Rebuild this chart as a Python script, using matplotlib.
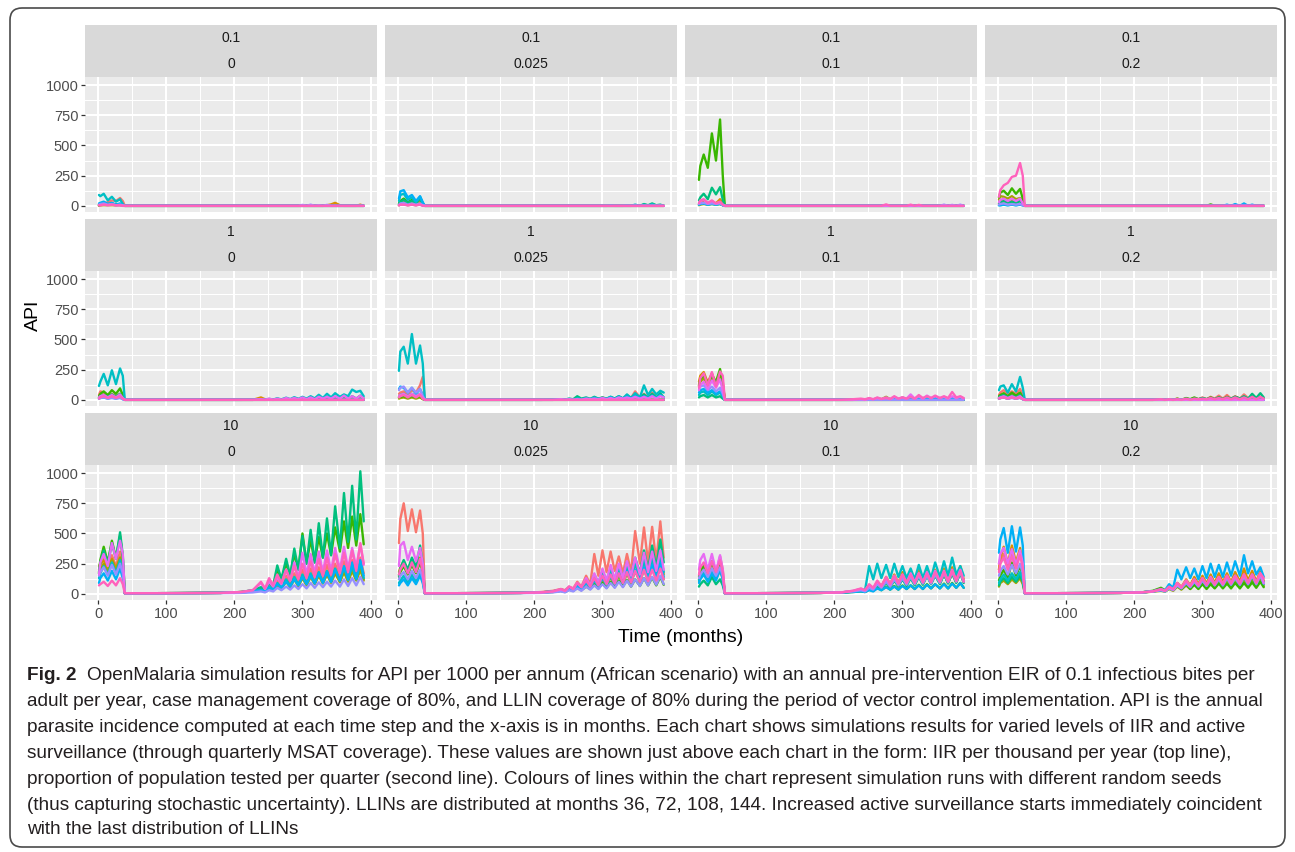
import numpy as np
import matplotlib.pyplot as plt
from matplotlib.patches import FancyBboxPatch
from matplotlib.transforms import IdentityTransform

# -----------------------------
# DATA
# -----------------------------
IIR = ["0.1", "1", "10"]
MSAT = ["0", "0.025", "0.1", "0.2"]

# seed colours (ggplot hue palette, 10 seeds)
COLORS = ["#F8766D", "#D89000", "#A3A500", "#39B600", "#00BF7D",
          "#00BFC4", "#00B0F6", "#9590FF", "#E76BF3", "#FF62BC"]

# time points (months): pre-intervention part, then the rest of the run
PRE_T = [1, 3, 8, 14, 20, 26, 32, 36, 39]
POST_T = [60, 120, 180, 210, 227, 239, 245, 251, 257, 263, 269, 276, 282, 288, 294,
          300, 306, 312, 318, 324, 330, 336, 342, 348, 355, 361, 367, 373, 379, 385, 390]

ZERO_POST = [0, 0, 0, 0, 0, 0, 0, 0, 0, 0, 0, 0, 0, 0, 0, 0,
             0, 0, 0, 0, 0, 0, 0, 0, 0, 0, 0, 0, 0, 0, 0]

# ---- IIR 0.1 ----
PRE_A1 = [[10, 15, 20, 30, 45, 40, 65, 40, 0],
          [5, 5, 10, 10, 10, 5, 10, 5, 0],
          [0, 5, 5, 5, 5, 5, 5, 0, 0],
          [5, 10, 15, 10, 15, 10, 10, 5, 0],
          [10, 15, 25, 15, 20, 10, 15, 5, 0],
          [90, 80, 100, 45, 75, 35, 55, 15, 0],
          [20, 25, 35, 15, 25, 10, 20, 5, 0],
          [10, 15, 20, 10, 15, 5, 10, 5, 0],
          [5, 5, 10, 5, 10, 5, 5, 0, 0],
          [5, 5, 10, 5, 10, 5, 5, 0, 0]]
POST_A1 = [ZERO_POST,
           [0, 0, 0, 0, 0, 0, 0, 0, 0, 0, 0, 0, 0, 0, 0, 0, 0, 0, 0, 0, 0, 5, 12, 25, 5, 0, 0, 0, 0, 10, 0],
           ZERO_POST, ZERO_POST, ZERO_POST, ZERO_POST, ZERO_POST,
           [0, 0, 0, 0, 0, 0, 0, 0, 0, 0, 0, 0, 0, 0, 0, 8, 0, 10, 0, 5, 0, 8, 0, 0, 0, 0, 0, 0, 0, 0, 0],
           ZERO_POST, ZERO_POST]

PRE_A2 = [[5, 10, 15, 10, 15, 10, 20, 5, 0],
          [10, 20, 40, 15, 30, 10, 40, 10, 0],
          [5, 10, 15, 5, 10, 5, 15, 5, 0],
          [20, 40, 60, 30, 50, 30, 70, 20, 0],
          [15, 30, 50, 25, 40, 20, 60, 15, 0],
          [40, 90, 100, 50, 70, 30, 75, 20, 0],
          [60, 120, 130, 70, 90, 40, 80, 30, 0],
          [10, 20, 25, 10, 20, 10, 20, 5, 0],
          [5, 10, 10, 5, 10, 5, 10, 0, 0],
          [5, 10, 10, 5, 10, 5, 10, 0, 0]]
POST_A2 = [ZERO_POST, ZERO_POST, ZERO_POST, ZERO_POST,
           [0, 0, 0, 0, 0, 0, 0, 0, 0, 0, 0, 0, 0, 0, 0, 0, 0, 0, 0, 0, 0, 0, 0, 5, 0, 15, 5, 20, 5, 10, 0],
           [0, 0, 0, 0, 0, 0, 0, 0, 0, 0, 0, 0, 0, 0, 0, 0, 0, 5, 0, 0, 0, 5, 0, 10, 0, 10, 0, 15, 0, 5, 0],
           ZERO_POST, ZERO_POST, ZERO_POST, ZERO_POST]

PRE_A3 = [[20, 30, 40, 20, 35, 20, 30, 10, 0],
          [10, 20, 30, 15, 25, 20, 55, 20, 0],
          [5, 10, 15, 10, 15, 10, 15, 5, 0],
          [215, 330, 425, 315, 600, 375, 715, 250, 0],
          [45, 70, 100, 55, 150, 95, 155, 50, 0],
          [10, 15, 20, 10, 15, 10, 15, 5, 0],
          [10, 15, 20, 10, 20, 10, 20, 5, 0],
          [15, 20, 25, 15, 20, 15, 20, 5, 0],
          [20, 40, 50, 20, 40, 20, 30, 10, 0],
          [25, 45, 55, 25, 45, 20, 35, 10, 0]]
POST_A3 = [ZERO_POST, ZERO_POST, ZERO_POST, ZERO_POST, ZERO_POST, ZERO_POST, ZERO_POST,
           [0, 0, 0, 0, 0, 0, 0, 0, 0, 0, 0, 0, 0, 0, 0, 0, 0, 0, 0, 0, 0, 0, 0, 0, 0, 10, 0, 8, 0, 10, 0],
           ZERO_POST,
           [0, 0, 0, 0, 0, 0, 0, 0, 0, 0, 0, 12, 0, 0, 0, 0, 0, 10, 0, 8, 0, 0, 0, 0, 0, 0, 0, 0, 0, 0, 0]]

PRE_A4 = [[10, 20, 30, 20, 30, 20, 40, 10, 0],
          [20, 40, 50, 30, 40, 30, 50, 20, 0],
          [50, 80, 75, 60, 80, 55, 65, 40, 0],
          [70, 110, 125, 90, 145, 100, 140, 60, 0],
          [20, 30, 40, 25, 35, 25, 40, 15, 0],
          [5, 5, 10, 5, 10, 5, 10, 5, 0],
          [5, 5, 10, 5, 10, 5, 10, 5, 0],
          [10, 15, 20, 10, 15, 10, 15, 5, 0],
          [30, 50, 60, 40, 60, 40, 60, 20, 0],
          [75, 130, 170, 190, 240, 250, 355, 250, 0]]
POST_A4 = [ZERO_POST, ZERO_POST, ZERO_POST,
           [0, 0, 0, 0, 0, 0, 0, 0, 0, 0, 0, 0, 0, 0, 0, 0, 0, 12, 0, 0, 0, 0, 0, 0, 0, 0, 0, 0, 0, 0, 0],
           ZERO_POST, ZERO_POST,
           [0, 0, 0, 0, 0, 0, 0, 0, 0, 0, 0, 0, 0, 0, 0, 0, 0, 0, 0, 0, 0, 10, 0, 15, 0, 20, 0, 10, 0, 0, 0],
           ZERO_POST, ZERO_POST, ZERO_POST]

# ---- IIR 1 ----
PRE_B1 = [[40, 70, 60, 30, 50, 30, 50, 20, 0],
          [20, 30, 40, 20, 40, 20, 40, 10, 0],
          [15, 20, 30, 15, 30, 15, 30, 10, 0],
          [30, 50, 70, 40, 80, 50, 95, 40, 0],
          [20, 30, 40, 25, 45, 25, 50, 15, 0],
          [115, 150, 215, 120, 245, 130, 260, 200, 0],
          [10, 15, 20, 10, 20, 10, 20, 5, 0],
          [10, 15, 20, 10, 15, 10, 15, 5, 0],
          [20, 30, 40, 20, 40, 20, 45, 15, 0],
          [10, 20, 30, 15, 30, 15, 30, 10, 0]]
POST_B1 = [ZERO_POST,
           [0, 0, 0, 0, 0, 20, 5, 5, 0, 5, 0, 10, 0, 10, 5, 10, 5, 15, 5, 15, 5, 20, 10, 20, 10, 25, 10, 25, 10, 30, 10],
           ZERO_POST, ZERO_POST,
           [0, 0, 0, 0, 0, 5, 0, 5, 0, 10, 0, 10, 0, 15, 5, 15, 5, 20, 5, 20, 5, 25, 10, 25, 10, 30, 10, 30, 10, 35, 10],
           [0, 0, 0, 0, 2, 5, 2, 8, 3, 12, 4, 18, 6, 22, 8, 25, 10, 30, 12, 42, 15, 50, 20, 55, 25, 45, 30, 85, 65, 75, 30],
           ZERO_POST, ZERO_POST,
           [0, 0, 0, 0, 0, 5, 0, 10, 0, 10, 0, 15, 5, 15, 5, 20, 5, 20, 5, 25, 10, 25, 10, 30, 10, 35, 10, 30, 10, 35, 10],
           ZERO_POST]

PRE_B2 = [[50, 60, 70, 40, 80, 60, 120, 190, 0],
          [20, 30, 40, 20, 40, 20, 40, 10, 0],
          [10, 15, 20, 10, 20, 10, 20, 5, 0],
          [20, 25, 30, 20, 30, 20, 30, 10, 0],
          [30, 40, 50, 30, 50, 30, 50, 15, 0],
          [240, 400, 440, 300, 545, 300, 450, 300, 0],
          [90, 110, 100, 60, 100, 50, 90, 40, 0],
          [80, 100, 110, 60, 100, 60, 90, 30, 0],
          [30, 40, 50, 30, 50, 30, 50, 15, 0],
          [20, 30, 40, 20, 40, 20, 40, 10, 0]]
POST_B2 = [[0, 0, 0, 0, 0, 5, 0, 5, 0, 10, 5, 10, 5, 15, 5, 20, 5, 20, 10, 25, 10, 40, 15, 70, 20, 50, 20, 60, 20, 40, 15],
           ZERO_POST, ZERO_POST, ZERO_POST,
           [0, 0, 0, 0, 2, 5, 2, 10, 5, 30, 10, 20, 8, 25, 10, 20, 10, 25, 10, 30, 10, 35, 15, 40, 15, 45, 15, 50, 20, 55, 20],
           [0, 0, 0, 0, 2, 5, 2, 8, 3, 10, 5, 15, 5, 20, 8, 15, 8, 25, 10, 30, 12, 45, 15, 55, 20, 120, 40, 90, 45, 75, 60],
           [0, 0, 0, 0, 0, 5, 0, 5, 0, 10, 5, 10, 5, 15, 5, 15, 5, 20, 5, 20, 10, 25, 10, 30, 10, 30, 15, 35, 15, 40, 20],
           ZERO_POST,
           [0, 0, 0, 0, 0, 5, 0, 5, 0, 5, 0, 10, 5, 10, 5, 15, 5, 15, 5, 20, 10, 20, 10, 25, 10, 25, 10, 30, 10, 30, 20],
           ZERO_POST]

PRE_B3 = [[130, 170, 200, 150, 210, 140, 200, 150, 0],
          [150, 200, 230, 140, 220, 130, 210, 120, 0],
          [110, 150, 180, 100, 190, 120, 200, 90, 0],
          [120, 170, 210, 130, 200, 150, 255, 130, 0],
          [20, 30, 40, 20, 40, 20, 30, 10, 0],
          [40, 60, 70, 40, 70, 40, 60, 30, 0],
          [60, 80, 90, 60, 80, 50, 70, 40, 0],
          [90, 110, 120, 80, 110, 70, 100, 50, 0],
          [80, 120, 150, 90, 160, 100, 170, 80, 0],
          [100, 180, 220, 120, 230, 110, 235, 200, 0]]
POST_B3 = [ZERO_POST, ZERO_POST,
           [0, 0, 0, 0, 0, 5, 0, 10, 0, 15, 5, 25, 5, 15, 5, 20, 5, 15, 5, 20, 5, 15, 5, 20, 5, 15, 5, 20, 5, 15, 5],
           ZERO_POST, ZERO_POST, ZERO_POST,
           [0, 0, 0, 0, 0, 0, 0, 5, 0, 5, 0, 5, 0, 10, 0, 10, 0, 10, 0, 10, 0, 10, 0, 15, 0, 15, 0, 15, 0, 20, 10],
           ZERO_POST,
           [0, 0, 0, 0, 0, 5, 0, 10, 5, 15, 5, 20, 5, 25, 10, 20, 10, 45, 10, 30, 10, 35, 15, 30, 15, 25, 10, 30, 15, 25, 10],
           [0, 0, 0, 0, 5, 10, 5, 15, 5, 20, 8, 15, 8, 30, 10, 20, 10, 25, 10, 40, 15, 30, 15, 35, 15, 30, 15, 65, 20, 30, 15]]

PRE_B4 = [[40, 60, 80, 50, 70, 50, 90, 40, 0],
          [20, 30, 40, 20, 40, 20, 40, 10, 0],
          [10, 15, 20, 10, 20, 10, 20, 5, 0],
          [30, 40, 55, 30, 60, 35, 60, 20, 0],
          [20, 30, 40, 20, 35, 20, 40, 10, 0],
          [80, 110, 120, 60, 130, 70, 190, 100, 0],
          [10, 15, 20, 10, 20, 10, 20, 5, 0],
          [10, 15, 20, 10, 15, 10, 15, 5, 0],
          [15, 20, 30, 15, 30, 15, 30, 10, 0],
          [10, 15, 20, 10, 20, 10, 20, 5, 0]]
POST_B4 = [[0, 0, 0, 0, 0, 5, 0, 5, 0, 10, 0, 10, 5, 15, 5, 20, 5, 25, 10, 35, 10, 40, 10, 30, 10, 45, 15, 30, 10, 25, 10],
           ZERO_POST, ZERO_POST,
           [0, 0, 0, 0, 0, 5, 0, 5, 0, 10, 0, 15, 5, 20, 5, 15, 5, 20, 5, 20, 5, 25, 5, 25, 10, 20, 5, 20, 5, 15, 5],
           [0, 0, 0, 0, 0, 0, 0, 5, 0, 5, 0, 10, 0, 10, 5, 15, 5, 15, 5, 20, 5, 20, 10, 25, 10, 30, 10, 50, 15, 55, 20],
           ZERO_POST, ZERO_POST, ZERO_POST, ZERO_POST,
           [0, 0, 0, 0, 0, 5, 0, 5, 0, 5, 0, 10, 0, 10, 5, 10, 5, 15, 5, 15, 5, 20, 5, 20, 5, 20, 5, 25, 5, 25, 10]]

# ---- IIR 10 ----
PRE_C1 = [[200, 230, 300, 220, 320, 230, 350, 250, 5],
          [230, 250, 280, 200, 290, 210, 300, 200, 5],
          [170, 200, 250, 180, 280, 190, 300, 200, 5],
          [180, 280, 390, 260, 440, 300, 480, 300, 5],
          [170, 260, 360, 250, 420, 290, 510, 320, 5],
          [130, 170, 230, 160, 260, 170, 280, 180, 5],
          [90, 130, 170, 110, 190, 120, 210, 130, 5],
          [150, 180, 220, 150, 240, 160, 250, 170, 5],
          [160, 260, 330, 230, 420, 290, 440, 330, 5],
          [70, 80, 100, 65, 110, 70, 130, 80, 5]]
POST_C1 = [[5, 6, 8, 15, 25, 45, 30, 70, 40, 110, 60, 150, 80, 170, 90, 200, 110, 210, 120, 220, 120, 240, 130, 250, 140, 270, 150, 280, 160, 300, 170],
           [5, 6, 8, 15, 20, 35, 25, 50, 35, 80, 50, 110, 60, 130, 70, 140, 80, 150, 85, 160, 90, 170, 100, 180, 105, 190, 110, 200, 115, 210, 120],
           [5, 6, 8, 12, 20, 30, 20, 45, 30, 70, 45, 100, 55, 120, 60, 130, 70, 140, 80, 150, 85, 160, 90, 170, 95, 180, 100, 190, 110, 200, 110],
           [5, 6, 8, 15, 30, 50, 35, 90, 60, 200, 120, 250, 150, 330, 200, 500, 250, 450, 260, 470, 300, 500, 320, 550, 350, 600, 380, 640, 400, 660, 410],
           [5, 6, 8, 15, 30, 55, 40, 85, 70, 235, 120, 290, 150, 375, 200, 480, 250, 530, 260, 585, 300, 625, 320, 725, 380, 835, 430, 895, 450, 1015, 600],
           [5, 6, 8, 12, 20, 35, 25, 60, 40, 90, 55, 120, 65, 140, 75, 160, 85, 170, 90, 180, 95, 190, 100, 210, 110, 220, 115, 230, 120, 250, 130],
           [5, 6, 8, 12, 20, 30, 22, 50, 35, 80, 50, 100, 60, 120, 70, 140, 80, 150, 85, 170, 90, 180, 100, 200, 110, 230, 120, 260, 130, 280, 150],
           [5, 5, 6, 8, 12, 20, 12, 30, 20, 50, 30, 60, 35, 70, 40, 80, 45, 90, 50, 95, 55, 100, 60, 110, 60, 120, 65, 130, 70, 140, 80],
           [5, 6, 8, 15, 30, 90, 40, 100, 60, 140, 80, 200, 110, 260, 130, 340, 160, 330, 170, 350, 180, 360, 190, 380, 200, 390, 210, 380, 220, 410, 240],
           [5, 6, 8, 15, 30, 100, 45, 130, 70, 160, 90, 200, 110, 230, 120, 250, 130, 270, 140, 290, 150, 300, 160, 330, 170, 340, 180, 360, 190, 420, 250]]

PRE_C2 = [[420, 620, 750, 520, 700, 510, 690, 500, 5],
          [180, 220, 270, 200, 280, 210, 300, 200, 5],
          [160, 200, 250, 180, 260, 190, 280, 190, 5],
          [140, 180, 230, 160, 240, 170, 260, 180, 5],
          [150, 210, 280, 200, 300, 220, 400, 250, 5],
          [90, 110, 150, 90, 160, 100, 170, 100, 5],
          [70, 90, 120, 70, 130, 80, 150, 90, 5],
          [120, 150, 180, 120, 190, 130, 200, 130, 5],
          [230, 400, 430, 280, 390, 270, 380, 250, 5],
          [160, 200, 250, 170, 260, 180, 290, 180, 5]]
POST_C2 = [[5, 6, 8, 15, 25, 40, 30, 60, 45, 100, 60, 150, 80, 330, 150, 360, 180, 350, 190, 310, 170, 330, 180, 520, 250, 550, 260, 555, 270, 600, 300],
           [5, 6, 8, 12, 20, 30, 20, 50, 35, 80, 50, 110, 60, 130, 70, 150, 80, 170, 90, 190, 100, 220, 110, 250, 130, 280, 140, 300, 150, 320, 160],
           [5, 6, 8, 10, 18, 25, 18, 40, 28, 65, 40, 90, 50, 110, 60, 120, 65, 140, 75, 150, 80, 170, 90, 190, 100, 200, 110, 220, 115, 240, 120],
           [5, 6, 8, 10, 15, 25, 15, 35, 25, 50, 30, 60, 40, 80, 45, 90, 50, 100, 55, 110, 60, 115, 60, 120, 65, 130, 70, 135, 70, 140, 75],
           [5, 6, 8, 12, 20, 35, 25, 50, 35, 80, 50, 120, 70, 160, 90, 190, 110, 210, 120, 230, 130, 260, 150, 300, 170, 360, 200, 400, 220, 450, 260],
           [5, 6, 8, 12, 20, 30, 20, 45, 30, 70, 45, 100, 60, 130, 75, 160, 90, 190, 100, 220, 110, 240, 120, 260, 130, 280, 140, 300, 150, 320, 180],
           [5, 6, 8, 10, 18, 25, 18, 40, 25, 60, 40, 90, 55, 110, 65, 130, 75, 150, 80, 170, 90, 190, 100, 200, 110, 220, 120, 240, 130, 260, 140],
           [5, 5, 6, 8, 12, 20, 12, 30, 20, 45, 25, 60, 35, 70, 40, 80, 45, 90, 50, 100, 55, 110, 60, 120, 65, 130, 70, 140, 75, 150, 80],
           [5, 6, 8, 12, 20, 35, 25, 60, 40, 90, 55, 130, 70, 170, 90, 210, 110, 240, 120, 250, 130, 270, 150, 300, 160, 340, 180, 350, 190, 360, 200],
           [5, 6, 8, 12, 20, 40, 25, 60, 40, 90, 55, 110, 60, 130, 70, 150, 80, 160, 85, 170, 90, 180, 95, 190, 100, 200, 105, 200, 110, 210, 120]]

PRE_C3 = [[150, 200, 240, 160, 250, 170, 310, 200, 5],
          [100, 130, 170, 120, 180, 130, 190, 130, 5],
          [120, 150, 190, 130, 200, 140, 210, 140, 5],
          [140, 180, 230, 150, 270, 160, 240, 150, 5],
          [60, 80, 110, 70, 140, 80, 120, 70, 5],
          [110, 140, 180, 120, 190, 130, 210, 130, 5],
          [90, 120, 160, 100, 170, 110, 200, 120, 5],
          [130, 160, 200, 140, 210, 150, 220, 150, 5],
          [200, 280, 330, 200, 330, 190, 320, 200, 5],
          [160, 220, 260, 170, 270, 180, 280, 180, 5]]
POST_C3 = [[5, 6, 8, 12, 20, 35, 25, 60, 40, 90, 55, 120, 70, 140, 80, 150, 85, 160, 90, 160, 90, 170, 95, 180, 100, 180, 100, 190, 105, 190, 105],
           [5, 6, 8, 12, 20, 30, 25, 60, 40, 100, 60, 140, 80, 160, 90, 180, 100, 190, 100, 200, 110, 210, 110, 200, 110, 210, 110, 220, 120, 230, 120],
           [5, 6, 8, 10, 18, 25, 20, 50, 35, 80, 50, 100, 60, 120, 70, 130, 75, 140, 80, 150, 85, 150, 85, 160, 90, 160, 90, 170, 95, 180, 100],
           [5, 6, 8, 10, 15, 20, 15, 35, 25, 50, 30, 60, 35, 65, 35, 70, 40, 70, 40, 75, 40, 80, 45, 80, 45, 85, 45, 90, 50, 90, 50],
           [5, 6, 8, 10, 18, 25, 20, 45, 30, 70, 45, 90, 55, 110, 60, 120, 65, 130, 70, 140, 75, 150, 80, 150, 80, 160, 85, 170, 90, 170, 90],
           [5, 6, 8, 12, 20, 40, 30, 230, 120, 250, 130, 240, 130, 250, 140, 230, 130, 210, 120, 240, 130, 230, 130, 260, 140, 270, 150, 300, 160, 230, 150],
           [5, 6, 8, 10, 15, 20, 15, 30, 20, 45, 30, 55, 35, 60, 35, 65, 40, 70, 40, 70, 40, 75, 45, 80, 45, 80, 45, 85, 50, 90, 50],
           [5, 6, 8, 12, 20, 30, 20, 50, 35, 80, 50, 100, 60, 120, 70, 130, 75, 140, 80, 150, 85, 150, 85, 160, 90, 170, 95, 180, 100, 180, 100],
           [5, 6, 8, 12, 25, 40, 30, 70, 45, 100, 60, 130, 75, 150, 85, 160, 90, 170, 95, 170, 95, 180, 100, 190, 105, 190, 105, 200, 110, 200, 110],
           [5, 6, 8, 12, 25, 45, 30, 80, 50, 110, 65, 140, 80, 150, 85, 160, 90, 160, 90, 170, 95, 170, 95, 180, 100, 180, 100, 190, 105, 190, 100]]

PRE_C4 = [[200, 260, 330, 220, 340, 230, 350, 230, 5],
          [200, 300, 390, 250, 400, 260, 380, 250, 5],
          [60, 90, 110, 80, 120, 90, 130, 80, 5],
          [110, 150, 200, 130, 260, 150, 230, 150, 5],
          [70, 100, 130, 90, 140, 100, 150, 100, 5],
          [90, 120, 160, 110, 170, 120, 180, 120, 5],
          [340, 450, 545, 340, 560, 350, 550, 400, 5],
          [150, 190, 230, 160, 240, 170, 250, 170, 5],
          [250, 330, 380, 250, 370, 240, 360, 250, 5],
          [180, 250, 300, 200, 310, 210, 320, 220, 5]]
POST_C4 = [[5, 6, 8, 12, 20, 35, 25, 60, 40, 90, 55, 110, 65, 130, 75, 140, 80, 150, 85, 160, 90, 160, 90, 170, 95, 170, 95, 180, 100, 190, 110],
           [5, 6, 8, 12, 20, 35, 25, 60, 40, 90, 55, 120, 70, 140, 80, 150, 85, 160, 90, 170, 95, 170, 95, 180, 100, 210, 110, 190, 100, 180, 100],
           [5, 6, 8, 10, 18, 25, 18, 40, 25, 60, 35, 70, 40, 80, 45, 90, 50, 90, 50, 100, 55, 100, 55, 110, 60, 110, 60, 120, 65, 120, 65],
           [5, 6, 8, 12, 25, 50, 30, 60, 35, 70, 40, 80, 40, 75, 40, 80, 40, 80, 45, 85, 45, 85, 45, 90, 45, 90, 50, 95, 50, 100, 55],
           [5, 6, 8, 12, 20, 35, 25, 50, 35, 70, 45, 90, 55, 100, 60, 110, 65, 120, 70, 120, 70, 130, 75, 130, 75, 140, 80, 140, 80, 150, 80],
           [5, 6, 8, 12, 20, 30, 20, 50, 35, 80, 50, 100, 60, 110, 65, 120, 70, 130, 75, 130, 75, 140, 80, 150, 80, 150, 85, 160, 85, 160, 90],
           [5, 6, 8, 12, 20, 40, 30, 80, 50, 200, 120, 220, 130, 210, 120, 230, 130, 250, 140, 240, 140, 260, 150, 270, 150, 320, 170, 270, 160, 220, 140],
           [5, 6, 8, 12, 20, 30, 20, 45, 30, 70, 45, 90, 55, 100, 60, 110, 65, 120, 70, 120, 70, 130, 75, 130, 75, 140, 80, 150, 80, 150, 85],
           [5, 6, 8, 12, 20, 35, 25, 55, 35, 80, 50, 110, 65, 120, 70, 130, 75, 140, 80, 140, 80, 150, 85, 150, 85, 160, 90, 160, 90, 170, 90],
           [5, 6, 8, 12, 20, 40, 25, 60, 40, 90, 55, 110, 65, 120, 70, 130, 75, 130, 75, 140, 80, 150, 85, 150, 85, 160, 90, 160, 90, 170, 130]]

PANEL_DATA = [[(PRE_A1, POST_A1), (PRE_A2, POST_A2), (PRE_A3, POST_A3), (PRE_A4, POST_A4)],
              [(PRE_B1, POST_B1), (PRE_B2, POST_B2), (PRE_B3, POST_B3), (PRE_B4, POST_B4)],
              [(PRE_C1, POST_C1), (PRE_C2, POST_C2), (PRE_C3, POST_C3), (PRE_C4, POST_C4)]]

CAPTION_BOLD = "Fig. 2"
CAPTION = [
    "OpenMalaria simulation results for API per 1000 per annum (African scenario) with an annual pre-intervention EIR of 0.1 infectious bites per",
    "adult per year, case management coverage of 80%, and LLIN coverage of 80% during the period of vector control implementation. API is the annual",
    "parasite incidence computed at each time step and the x-axis is in months. Each chart shows simulations results for varied levels of IIR and active",
    "surveillance (through quarterly MSAT coverage). These values are shown just above each chart in the form: IIR per thousand per year (top line),",
    "proportion of population tested per quarter (second line). Colours of lines within the chart represent simulation runs with different random seeds",
    "(thus capturing stochastic uncertainty). LLINs are distributed at months 36, 72, 108, 144. Increased active surveillance starts immediately coincident",
    "with the last distribution of LLINs",
]

# -----------------------------
# LAYOUT (pixels)
# -----------------------------
W, H = 1295, 852
COL_X = [85, 385, 685, 985]
PANEL_W = 292
STRIP_TOP = [25, 219, 413]
STRIP_H = 52
PANEL_H = 135

plt.rcParams["font.family"] = ["Liberation Sans", "DejaVu Sans"]

fig = plt.figure(figsize=(W / 100, H / 100), dpi=100)


def rect(x, y, w, h):
    return [x / W, 1 - (y + h) / H, w / W, h / H]


T = PRE_T + POST_T

for r in range(3):
    for c in range(4):
        # strip
        sax = fig.add_axes(rect(COL_X[c], STRIP_TOP[r], PANEL_W, STRIP_H))
        sax.set_facecolor("#D9D9D9")
        sax.set_xticks([])
        sax.set_yticks([])
        for s in sax.spines.values():
            s.set_visible(False)
        sax.text(0.5, 1 - 13 / STRIP_H, IIR[r], ha="center", va="center",
                 fontsize=10, color="#1A1A1A", transform=sax.transAxes)
        sax.text(0.5, 1 - 39 / STRIP_H, MSAT[c], ha="center", va="center",
                 fontsize=10, color="#1A1A1A", transform=sax.transAxes)

        # panel
        ax = fig.add_axes(rect(COL_X[c], STRIP_TOP[r] + STRIP_H, PANEL_W, PANEL_H))
        ax.set_facecolor("#EBEBEB")
        ax.set_xlim(-19.5, 409.5)
        ax.set_ylim(-51, 1067)
        ax.set_xticks([0, 100, 200, 300, 400])
        ax.set_xticks([50, 150, 250, 350], minor=True)
        ax.set_yticks([0, 250, 500, 750, 1000])
        ax.set_yticks([125, 375, 625, 875], minor=True)
        ax.grid(which="major", color="white", linewidth=1.5)
        ax.grid(which="minor", color="white", linewidth=0.75)
        ax.set_axisbelow(True)
        for s in ax.spines.values():
            s.set_visible(False)
        ax.tick_params(which="major", length=2.75, width=0.9, color="#333333",
                       labelsize=10.5, labelcolor="#4D4D4D", pad=2)
        ax.tick_params(which="minor", length=0)
        if c != 0:
            ax.tick_params(left=False, labelleft=False)
        if r != 2:
            ax.tick_params(bottom=False, labelbottom=False)

        pre, post = PANEL_DATA[r][c]
        for i in range(10):
            ax.plot(T, pre[i] + post[i], color=COLORS[i], linewidth=1.7,
                    solid_joinstyle="round", solid_capstyle="round")

# axis titles
fig.text((85 + 1277) / 2 / W, 1 - 637 / H, "Time (months)", ha="center", va="center",
         fontsize=14, color="black")
fig.text(33 / W, 1 - 315 / H, "API", ha="center", va="center", rotation=90,
         fontsize=14, color="black")

# caption
cap_family = ["Liberation Sans Narrow", "Liberation Sans"]
cap_y = [673, 699, 725, 751, 777, 803, 828]
renderer = fig.canvas.get_renderer()
probe = fig.text(27 / W, 0.5, CAPTION[1], fontsize=12, family=cap_family)
w = probe.get_window_extent(renderer).width
probe.remove()
cap_fs = 12 * (1275 - 27) / w

fb = fig.text(27 / W, 1 - cap_y[0] / H, CAPTION_BOLD, fontsize=cap_fs, family=cap_family,
              fontweight="bold", va="center_baseline", color="#231F20")
bw = fb.get_window_extent(renderer).width
for k, line in enumerate(CAPTION):
    x0 = 27 + (bw + 0.55 * cap_fs * 100 / 72 if k == 0 else 0)
    fig.text(x0 / W, 1 - cap_y[k] / H, line, fontsize=cap_fs, family=cap_family,
             va="center_baseline", color="#231F20")

# rounded border
border = FancyBboxPatch((10, H - 847), 1275, 839, boxstyle="round,pad=0,rounding_size=12",
                        transform=IdentityTransform(), fill=False, edgecolor="#4A4A4A",
                        linewidth=1.2)
fig.add_artist(border)

fig.savefig("out.png", dpi=100)
